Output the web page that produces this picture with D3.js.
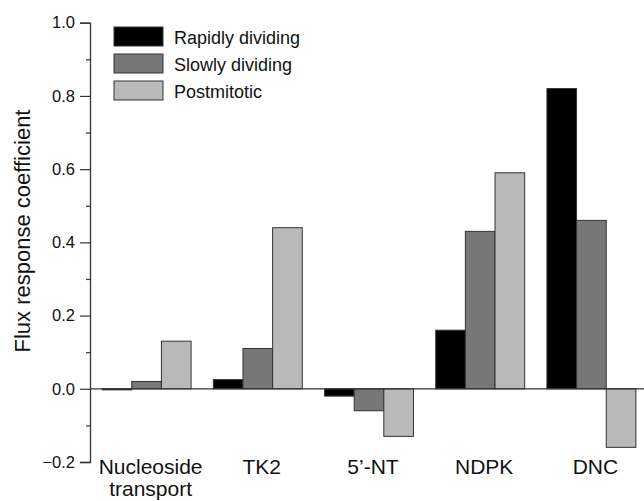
<!DOCTYPE html>
<html>
<head>
<meta charset="utf-8">
<script src="https://cdn.jsdelivr.net/npm/d3@7"></script>
<style>
  body { margin: 0; background: #fff; }
  svg { display: block; font-family: "Liberation Sans", Arial, Helvetica, sans-serif; }
</style>
</head>
<body>
<svg id="chart" width="644" height="501"></svg>
<script>
// chart data
const categories = [['Nucleoside', 'transport'], ['TK2'], ['5\u2019-NT'], ['NDPK'], ['DNC']];
const seriesNames = ['Rapidly dividing', 'Slowly dividing', 'Postmitotic'];
const rapidly = [-0.003, 0.025, -0.02, 0.16, 0.82];
const slowly = [0.02, 0.11, -0.06, 0.43, 0.46];
const postmitotic = [0.13, 0.44, -0.13, 0.59, -0.16];
const yTicks = [-0.2, 0.0, 0.2, 0.4, 0.6, 0.8, 1.0];
const yMinorTicks = [-0.1, 0.1, 0.3, 0.5, 0.7, 0.9];

const colors = ['#000000', '#777777', '#b9b9b9'];
const series = [rapidly, slowly, postmitotic];

const svg = d3.select('#chart');

const axisX = 90;
const y = d3.scaleLinear().domain([-0.2, 1.0]).range([462, 22.7]);
const x0 = d3.scaleBand()
  .domain(d3.range(categories.length))
  .range([91, 647])
  .paddingInner(0.2)
  .paddingOuter(0.1);
const x1 = d3.scaleBand()
  .domain(d3.range(seriesNames.length))
  .range([0, x0.bandwidth()]);

// bars
const groups = svg.append('g')
  .selectAll('g')
  .data(categories)
  .join('g')
  .attr('transform', (d, i) => 'translate(' + x0(i) + ',0)');

groups.selectAll('rect')
  .data((d, i) => series.map((s, k) => ({ k: k, v: s[i] })))
  .join('rect')
  .attr('x', d => x1(d.k))
  .attr('width', x1.bandwidth())
  .attr('y', d => y(Math.max(0, d.v)))
  .attr('height', d => Math.abs(y(d.v) - y(0)))
  .attr('fill', d => colors[d.k])
  .attr('stroke', '#333')
  .attr('stroke-width', 1);

// zero line
svg.append('line')
  .attr('x1', axisX).attr('x2', 644)
  .attr('y1', y(0)).attr('y2', y(0))
  .attr('stroke', '#333').attr('stroke-width', 1.2);

// y axis
const yAxis = svg.append('g')
  .attr('transform', 'translate(' + axisX + ',0)')
  .call(d3.axisLeft(y).tickValues(yTicks).tickSize(10).tickPadding(5).tickFormat(d3.format('.1f')));
yAxis.select('.domain').attr('stroke', '#333').attr('stroke-width', 1.3);
yAxis.selectAll('.tick line').attr('stroke', '#333').attr('stroke-width', 1.2);
yAxis.selectAll('.tick text').attr('font-size', 16.5).attr('fill', '#111').attr('font-family', 'inherit');

const yMinor = svg.append('g')
  .attr('transform', 'translate(' + axisX + ',0)')
  .call(d3.axisLeft(y).tickValues(yMinorTicks).tickSize(4).tickFormat(''));
yMinor.select('.domain').remove();
yMinor.selectAll('.tick line').attr('stroke', '#333').attr('stroke-width', 1.2);

// y title
svg.append('text')
  .attr('transform', 'translate(30,231) rotate(-90)')
  .attr('text-anchor', 'middle')
  .attr('font-size', 22)
  .attr('fill', '#111')
  .text('Flux response coefficient');

// category labels
svg.append('g')
  .selectAll('text')
  .data(categories)
  .join('text')
  .attr('x', (d, i) => x0(i) + x0.bandwidth() / 2 + 4)
  .attr('y', 474)
  .attr('text-anchor', 'middle')
  .attr('font-size', 21)
  .attr('fill', '#111')
  .selectAll('tspan')
  .data(d => d)
  .join('tspan')
  .attr('x', function () { return d3.select(this.parentNode).attr('x'); })
  .attr('dy', (d, i) => i === 0 ? 0 : 22)
  .text(d => d);

// legend
const legend = svg.append('g').attr('transform', 'translate(114,27)');
const items = legend.selectAll('g')
  .data(seriesNames)
  .join('g')
  .attr('transform', (d, i) => 'translate(0,' + i * 27 + ')');
items.append('rect')
  .attr('width', 49).attr('height', 19)
  .attr('fill', (d, i) => colors[i])
  .attr('stroke', '#333').attr('stroke-width', 1);
items.append('text')
  .attr('x', 60).attr('y', 17)
  .attr('font-size', 18)
  .attr('fill', '#111')
  .text(d => d);
</script>
</body>
</html>
